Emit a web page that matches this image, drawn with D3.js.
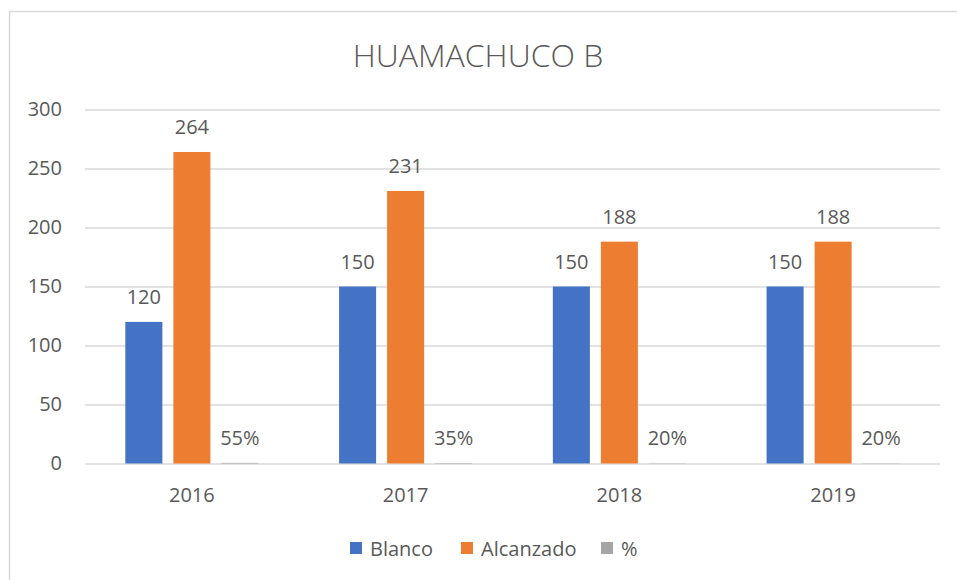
<!DOCTYPE html>
<html>
<head>
<meta charset="utf-8">
<script src="https://cdn.jsdelivr.net/npm/d3@7"></script>
<style>
  html, body { margin: 0; padding: 0; background: #fff; }
  svg { display: block; }
  text { font-family: "Open Sans", "Liberation Sans", sans-serif; fill: #595959; }
</style>
</head>
<body>
<svg id="chart" width="957" height="580"></svg>
<script>
const title = "HUAMACHUCO B";
const categories = ["2016", "2017", "2018", "2019"];
const seriesNames = ["Blanco", "Alcanzado", "%"];
const blanco = [120, 150, 150, 150];
const alcanzado = [264, 231, 188, 188];
const porcentaje = [0.55, 0.35, 0.20, 0.20];
const yTicks = [0, 50, 100, 150, 200, 250, 300];
const colors = ["#4472C4", "#ED7D31", "#A5A5A5"];

(function () {
const seriesValues = [blanco, alcanzado, porcentaje];
const fmt = [d3.format("d"), d3.format("d"), d3.format(".0%")];

const svg = d3.select("#chart");

svg.append("rect")
  .attr("x", 9.5).attr("y", 11.5)
  .attr("width", 1000).attr("height", 1000)
  .attr("fill", "none").attr("stroke", "#D9D9D9").attr("stroke-width", 1.5);

const mLeft = 85, mRight = 940, mTop = 109.5, mBottom = 463.5;

const x0 = d3.scaleBand().domain(categories).range([mLeft, mRight]).paddingInner(0).paddingOuter(0);
const x1 = d3.scaleBand().domain(seriesNames).range([0, x0.bandwidth()])
  .paddingInner(0.229).paddingOuter(0.84);
const y = d3.scaleLinear().domain([0, 300]).range([mBottom, mTop]);

svg.append("text")
  .attr("x", 478).attr("y", 67)
  .attr("text-anchor", "middle")
  .style("font-size", "32px").style("font-weight", 300)
  .text(title);

const yAxis = d3.axisLeft(y).tickValues(yTicks).tickSize(-(mRight - mLeft)).tickPadding(23);
const gy = svg.append("g").attr("transform", `translate(${mLeft},0)`).call(yAxis);
gy.select(".domain").remove();
gy.selectAll(".tick line").attr("stroke", "#D9D9D9").attr("stroke-width", 1.5);
gy.selectAll(".tick text")
  .style("font-size", "20px").style("fill", "#595959");
gy.attr("font-family", null).attr("font-size", null);

const xAxis = d3.axisBottom(x0).tickSize(0).tickPadding(24);
const gx = svg.append("g").attr("transform", `translate(0,${mBottom})`).call(xAxis);
gx.select(".domain").remove();
gx.selectAll(".tick text").style("font-size", "20px").style("fill", "#595959");
gx.attr("font-family", null).attr("font-size", null);

const rows = [];
categories.forEach((c, i) => {
  seriesNames.forEach((s, j) => {
    rows.push({ cat: c, series: s, idx: j, value: seriesValues[j][i] });
  });
});

svg.append("g").selectAll("rect").data(rows).join("rect")
  .attr("x", d => x0(d.cat) + x1(d.series))
  .attr("y", d => y(d.value))
  .attr("width", x1.bandwidth())
  .attr("height", d => y(0) - y(d.value))
  .attr("fill", d => colors[d.idx]);

svg.append("g").selectAll("text").data(rows).join("text")
  .attr("x", d => x0(d.cat) + x1(d.series) + x1.bandwidth() / 2)
  .attr("y", d => y(d.value) - 18)
  .attr("text-anchor", "middle")
  .style("font-size", "20px")
  .text(d => fmt[d.idx](d.value));

const legendX = [350, 461, 601];
const lg = svg.append("g").selectAll("g").data(seriesNames).join("g")
  .attr("transform", (d, i) => `translate(${legendX[i]},542)`);
lg.append("rect").attr("width", 12).attr("height", 12).attr("fill", (d, i) => colors[i]);
lg.append("text").attr("x", 20).attr("y", 13.5).style("font-size", "20px").text(d => d);
})();
</script>
</body>
</html>
